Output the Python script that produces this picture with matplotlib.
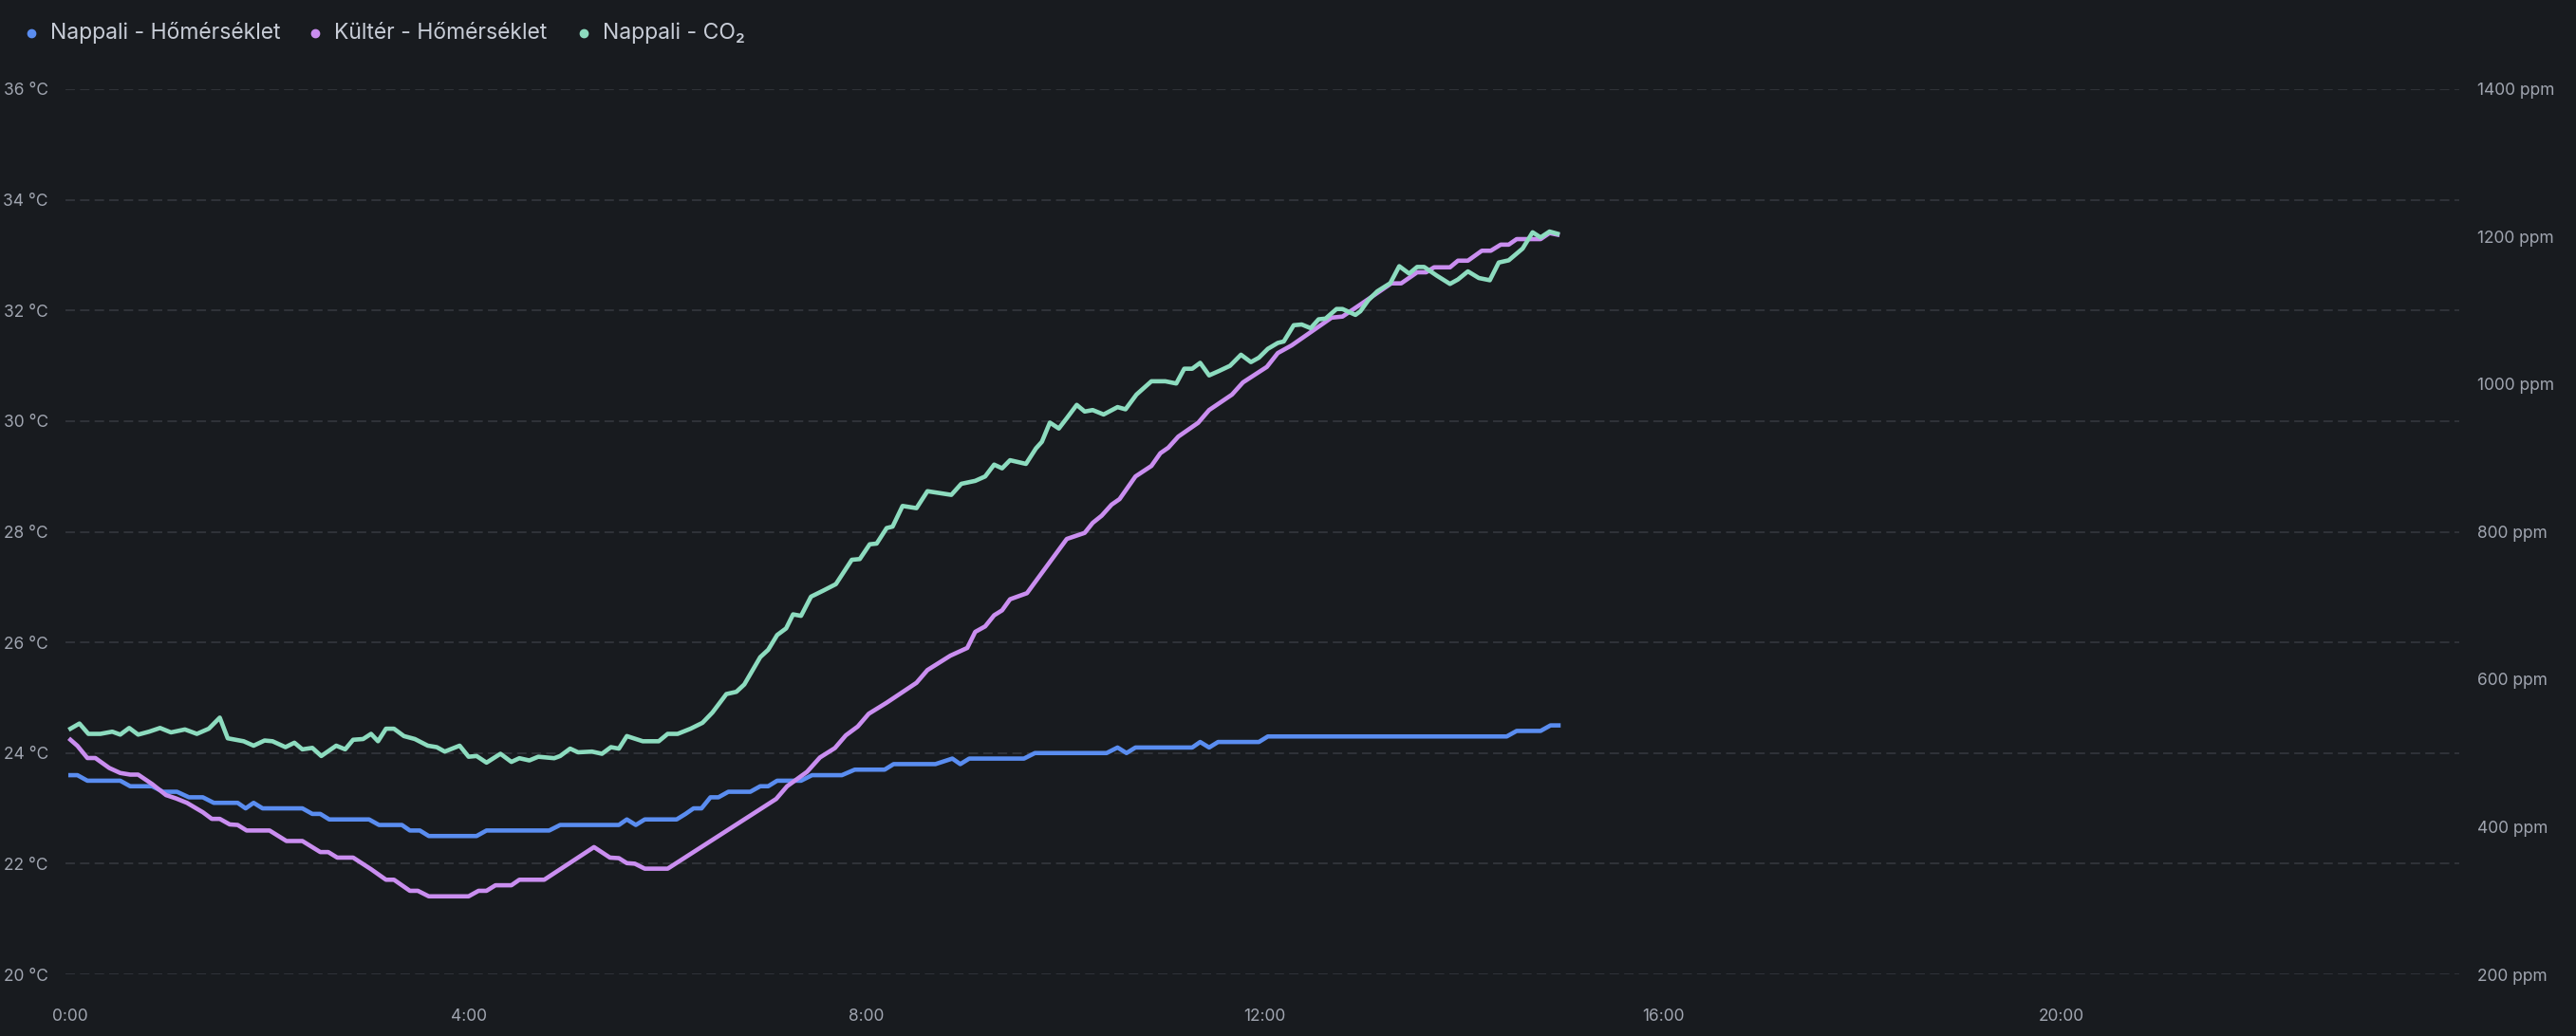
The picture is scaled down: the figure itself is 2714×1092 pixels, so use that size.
import matplotlib
matplotlib.use("Agg")
import matplotlib.pyplot as plt
from matplotlib.lines import Line2D

# hours since midnight
nappali_t = [0, 0.07, 0.17, 0.5, 0.6, 0.82, 0.93, 1.07, 1.19, 1.33, 1.44, 1.68, 1.76, 1.84,
             1.93, 2.33, 2.43, 2.51, 2.6, 3.0, 3.1, 3.33, 3.41, 3.51, 3.6, 4.08, 4.18, 4.81,
             4.92, 5.51, 5.59, 5.68, 5.77, 6.09, 6.18, 6.26, 6.34, 6.43, 6.51, 6.61, 6.83,
             6.93, 7.01, 7.1, 7.34, 7.45, 7.75, 7.88, 8.18, 8.27, 8.69, 8.86, 8.94, 9.03,
             9.58, 9.69, 10.41, 10.52, 10.61, 10.7, 11.27, 11.35, 11.44, 11.53, 11.94,
             12.03, 14.43, 14.53, 14.77, 14.87, 14.95]
nappali_temp = [23.6, 23.6, 23.5, 23.5, 23.4, 23.4, 23.3, 23.3, 23.2, 23.2, 23.1, 23.1, 23.0, 23.1,
                23.0, 23.0, 22.9, 22.9, 22.8, 22.8, 22.7, 22.7, 22.6, 22.6, 22.5, 22.5, 22.6, 22.6,
                22.7, 22.7, 22.8, 22.7, 22.8, 22.8, 22.9, 23.0, 23.0, 23.2, 23.2, 23.3, 23.3,
                23.4, 23.4, 23.5, 23.5, 23.6, 23.6, 23.7, 23.7, 23.8, 23.8, 23.9, 23.8, 23.9,
                23.9, 24.0, 24.0, 24.1, 24.0, 24.1, 24.1, 24.2, 24.1, 24.2, 24.2,
                24.3, 24.3, 24.4, 24.4, 24.5, 24.5]

kulter_t = [0, 0.07, 0.17, 0.25, 0.39, 0.5, 0.6, 0.68, 0.82, 0.96, 1.06, 1.17, 1.33, 1.42, 1.5,
            1.6, 1.68, 1.77, 2.0, 2.17, 2.33, 2.51, 2.59, 2.68, 2.84, 3.02, 3.17, 3.25, 3.41,
            3.49, 3.6, 4.0, 4.1, 4.18, 4.27, 4.43, 4.51, 4.76, 5.26, 5.42, 5.51, 5.59, 5.67,
            5.77, 6.0, 7.09, 7.2, 7.4, 7.53, 7.68, 7.79, 7.91, 8.02, 8.2, 8.5, 8.61, 8.84,
            9.01, 9.09, 9.19, 9.28, 9.36, 9.44, 9.61, 10.01, 10.19, 10.27, 10.36, 10.46,
            10.54, 10.7, 10.86, 10.95, 11.03, 11.13, 11.33, 11.44, 11.67, 11.78, 12.02,
            12.13, 12.27, 12.67, 12.78, 12.97, 13.1, 13.27, 13.37, 13.53, 13.62, 13.7,
            13.86, 13.94, 14.04, 14.18, 14.27, 14.37, 14.45, 14.53, 14.77, 14.86, 14.94]
kulter_temp = [24.24, 24.13, 23.91, 23.91, 23.73, 23.64, 23.61, 23.61, 23.44, 23.24, 23.18, 23.1,
               22.93, 22.81, 22.81, 22.71, 22.7, 22.6, 22.6, 22.41, 22.41, 22.21, 22.21, 22.11,
               22.11, 21.9, 21.71, 21.71, 21.51, 21.51, 21.41, 21.41, 21.51, 21.51, 21.61,
               21.61, 21.71, 21.71, 22.3, 22.11, 22.1, 22.01, 22.0, 21.91, 21.91, 23.17, 23.4,
               23.66, 23.92, 24.09, 24.32, 24.48, 24.71, 24.91, 25.27, 25.5, 25.76, 25.9,
               26.19, 26.29, 26.49, 26.58, 26.78, 26.89, 27.87, 27.98, 28.16, 28.29, 28.49,
               28.59, 29.0, 29.19, 29.42, 29.52, 29.72, 29.97, 30.2, 30.48, 30.7, 30.98,
               31.23, 31.37, 31.87, 31.89, 32.12, 32.28, 32.49, 32.49, 32.69, 32.69, 32.78,
               32.78, 32.9, 32.9, 33.08, 33.08, 33.19, 33.19, 33.29, 33.29, 33.4, 33.37]

co2_t = [0, 0.09, 0.18, 0.3, 0.42, 0.5, 0.59, 0.68, 0.79, 0.9, 1.01, 1.15, 1.27, 1.39, 1.5,
         1.58, 1.74, 1.84, 1.95, 2.03, 2.16, 2.25, 2.33, 2.43, 2.52, 2.67, 2.76, 2.84, 2.94,
         3.02, 3.09, 3.17, 3.25, 3.35, 3.46, 3.59, 3.68, 3.76, 3.91, 4.0, 4.08, 4.18, 4.32,
         4.43, 4.51, 4.61, 4.7, 4.86, 4.92, 5.02, 5.1, 5.24, 5.34, 5.43, 5.51, 5.59, 5.75,
         5.91, 6.0, 6.1, 6.23, 6.35, 6.45, 6.59, 6.69, 6.77, 6.93, 7.01, 7.1, 7.19, 7.26,
         7.34, 7.44, 7.56, 7.69, 7.85, 7.93, 8.03, 8.1, 8.2, 8.26, 8.36, 8.5, 8.61, 8.85,
         8.95, 9.09, 9.19, 9.28, 9.36, 9.44, 9.6, 9.7, 9.76, 9.84, 9.93, 10.01, 10.11,
         10.19, 10.27, 10.38, 10.52, 10.6, 10.71, 10.86, 11.0, 11.11, 11.19, 11.27, 11.35,
         11.44, 11.54, 11.65, 11.76, 11.86, 11.94, 12.03, 12.13, 12.19, 12.29, 12.37,
         12.46, 12.54, 12.61, 12.72, 12.78, 12.91, 12.96, 13.04, 13.13, 13.26, 13.35,
         13.45, 13.53, 13.6, 13.73, 13.86, 13.94, 14.04, 14.15, 14.26, 14.35, 14.45,
         14.59, 14.69, 14.77, 14.86, 14.94]
co2_ppm = [533, 540, 526, 526, 529, 525, 534, 525, 529, 534, 528, 532, 526, 533, 548,
           520, 516, 510, 517, 516, 508, 514, 505, 507, 496, 510, 505, 518, 519,
           526, 516, 533, 533, 523, 519, 510, 508, 502, 510, 495, 496, 487, 499,
           488, 493, 490, 495, 493, 496, 506, 501, 502, 499, 508, 506, 523, 516,
           516, 526, 526, 533, 541, 555, 580, 583, 593, 630, 640, 660, 669, 688,
           686, 712, 720, 729, 762, 763, 783, 784, 805, 807, 835, 832, 855, 850,
           865, 869, 875, 891, 886, 897, 892, 913, 922, 948, 940, 954, 972,
           963, 965, 959, 969, 966, 986, 1004, 1004, 1001, 1021, 1021, 1029,
           1012, 1018, 1025, 1040, 1030, 1036, 1048, 1056, 1058, 1080, 1081,
           1076, 1088, 1089, 1102, 1102, 1094, 1099, 1114, 1126, 1137, 1160,
           1150, 1159, 1159, 1147, 1136, 1142, 1153, 1144, 1141, 1165, 1168,
           1184, 1206, 1199, 1207, 1204]

series_names = ["Nappali - Hőmérséklet", "Kültér - Hőmérséklet", "Nappali - CO₂"]
colors = ["#5a8df0", "#ca8ef0", "#8ddcbf"]

temp_ticks = [20, 22, 24, 26, 28, 30, 32, 34, 36]
ppm_ticks = [200, 400, 600, 800, 1000, 1200, 1400]
hour_ticks = [0, 4, 8, 12, 16, 20]

bg = "#181b1f"
label_col = "#a0a5b0"
legend_col = "#c7ccd6"
grid_col = "#32353b"

plt.rcParams['font.family'] = ['Inter', 'DejaVu Sans']

fig = plt.figure(figsize=(27.14, 10.92), dpi=100, facecolor=bg)
ax = fig.add_axes([69 / 2714, 65 / 1092, (2591 - 69) / 2714, (1027 - 94) / 1092])
ax.set_facecolor(bg)

ax.plot(nappali_t, nappali_temp, color=colors[0], lw=3.3, solid_joinstyle="round", zorder=3)
ax.plot(kulter_t, kulter_temp, color=colors[1], lw=3.3, solid_joinstyle="round", zorder=3)

ax.set_xlim(-0.05, 24)
ax.set_ylim(20, 36)
ax.set_yticks(temp_ticks)
ax.set_yticklabels([f"{v} °C" for v in temp_ticks])
ax.set_xticks(hour_ticks)
ax.set_xticklabels([f"{h}:00" for h in hour_ticks])
ax.grid(axis="y", color=grid_col, lw=1.3, linestyle=(0, (5.5, 3)))
ax.tick_params(axis="y", length=0, pad=13, labelsize=12.5, labelcolor=label_col)
ax.tick_params(axis="x", length=0, pad=26, labelsize=12.5, labelcolor=label_col)
for s in ax.spines.values():
    s.set_visible(False)

ax2 = ax.twinx()
ax2.plot(co2_t, co2_ppm, color=colors[2], lw=3.3, solid_joinstyle="round", zorder=3)
ax2.set_ylim(200, 1400)
ax2.set_yticks(ppm_ticks)
ax2.set_yticklabels([f"{v} ppm" for v in ppm_ticks])
ax2.tick_params(axis="y", length=0, pad=14, labelsize=12.5, labelcolor=label_col)
for s in ax2.spines.values():
    s.set_visible(False)

# legend row at the top
leg_dot_x = [33, 332, 615]
for i, name in enumerate(series_names):
    x0 = leg_dot_x[i] / 2714
    y0 = 1 - 35 / 1092
    fig.add_artist(Line2D([x0], [y0], marker="o", markersize=6, color=colors[i],
                          linestyle="none", transform=fig.transFigure))
    fig.text(x0 + 20 / 2714, y0, name, color=legend_col, fontsize=16.5, va="center", ha="left")

fig.savefig("out.png", dpi=100, facecolor=bg)
